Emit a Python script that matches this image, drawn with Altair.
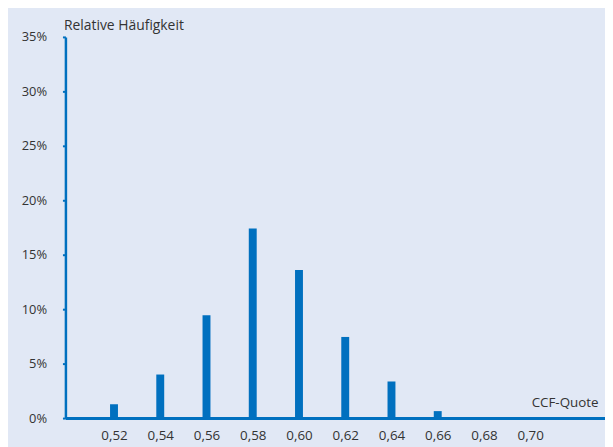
import altair as alt
import pandas as pd

quote = [0.52, 0.54, 0.56, 0.58, 0.60, 0.62, 0.64, 0.66, 0.68, 0.70]
freq = [0.0127, 0.040, 0.0945, 0.174, 0.136, 0.0745, 0.0336, 0.0064, 0.0, 0.0]
y_ticks = [0, 0.05, 0.10, 0.15, 0.20, 0.25, 0.30, 0.35]

df = pd.DataFrame({"quote": quote, "freq": freq})

BLUE = "#0070bf"
TEXT = "#333333"
FONT = "Open Sans"

chart = alt.Chart(df).mark_bar(color=BLUE, size=8).encode(
    x=alt.X(
        "quote:Q",
        scale=alt.Scale(domain=[0.50113, 0.7302], nice=False, zero=False),
        axis=alt.Axis(
            values=quote,
            labelExpr="replace(format(datum.value, '.2f'), '.', ',')",
            ticks=False,
            grid=False,
            domainColor=BLUE,
            domainWidth=3,
            labelFont=FONT,
            labelFontSize=13.5,
            labelColor=TEXT,
            labelBaseline="alphabetic",
            labelPadding=22,
            title="CCF-Quote",
            titleFont=FONT,
            titleFontSize=13.5,
            titleFontWeight="normal",
            titleColor=TEXT,
            titleAlign="right",
            titleBaseline="alphabetic",
            titleAnchor="end",
            titleX=538,
            titleY=-12,
        ),
    ),
    y=alt.Y(
        "freq:Q",
        scale=alt.Scale(domain=[0, 0.35], nice=False),
        axis=alt.Axis(
            values=y_ticks,
            format=".0%",
            grid=False,
            domainColor=BLUE,
            domainWidth=2.5,
            tickColor=BLUE,
            tickWidth=2,
            tickSize=3,
            labelPadding=16,
            labelFont=FONT,
            labelFontSize=13,
            labelColor=TEXT,
            title="Relative Häufigkeit",
            titleAngle=0,
            titleFont=FONT,
            titleFontSize=14,
            titleFontWeight="normal",
            titleColor=TEXT,
            titleAlign="left",
            titleBaseline="alphabetic",
            titleX=-2,
            titleY=-7,
        ),
    ),
).properties(
    width=545,
    height=385,
    padding={"left": 58, "top": 27, "right": 0, "bottom": 27},
    autosize="none",
    background="#e1e8f5",
).configure_view(stroke=None)

chart.save("out.html", embed_options={"renderer": "svg", "actions": False})
